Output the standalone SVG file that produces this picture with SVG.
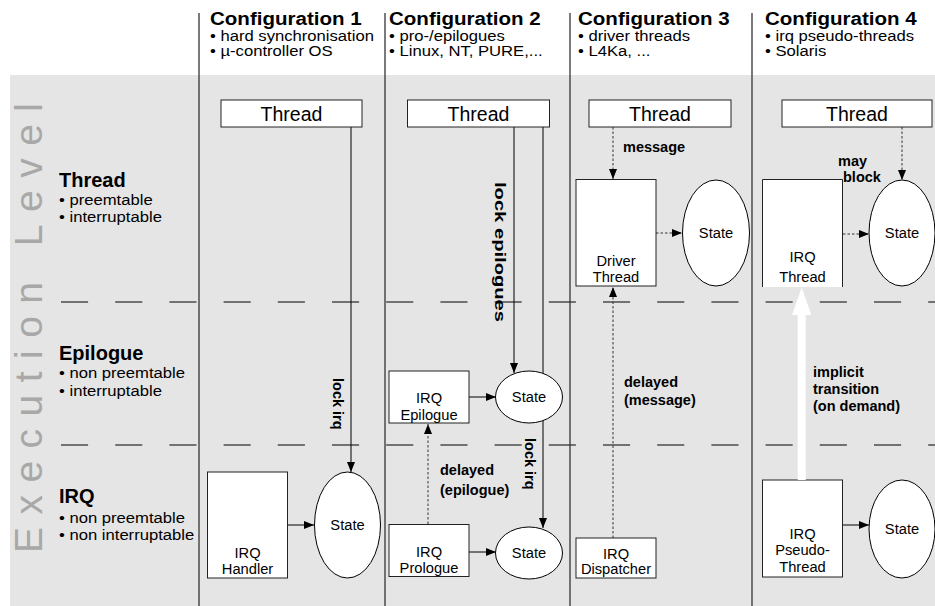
<svg xmlns="http://www.w3.org/2000/svg" width="935" height="606" viewBox="0 0 935 606">
<style>
text{font-family:"Liberation Sans",Arial,sans-serif;fill:#000}
.h{font-size:18.5px;font-weight:bold}
.hb{font-size:15px}
.lh{font-size:20px;font-weight:bold}
.bx{fill:#fff;stroke:#222;stroke-width:1}
.el{fill:#fff;stroke:#000;stroke-width:1}
.t{font-size:19.5px;text-anchor:middle}
.s{font-size:14.7px;text-anchor:middle}
.lb{font-size:14.5px;font-weight:bold}
.sol{stroke:#000;stroke-width:1;fill:none}
.dot{stroke:#333;stroke-width:1;fill:none;stroke-dasharray:2.5 2}
.sep{stroke:#333;stroke-width:1.3}
.dash{stroke:#000;stroke-width:1.2;stroke-dasharray:27.1 27.1}
</style>
<defs>
<marker id="ah" markerWidth="10" markerHeight="8" refX="10" refY="4" orient="auto" markerUnits="userSpaceOnUse"><path d="M0,0 L10,4 L0,8 z" fill="#000"/></marker>
</defs>
<rect x="0" y="0" width="935" height="606" fill="#fff"/>
<rect x="10" y="75" width="925" height="531" fill="#e5e5e5"/>
<g id="background-text">
<text transform="translate(42,553) rotate(-90)" font-size="39" textLength="450" lengthAdjust="spacing" style="fill:#a8a8a8">Execution Level</text>
</g>
<g id="grid">
<line class="dash" x1="61" y1="302" x2="935" y2="302"/>
<line class="dash" x1="61" y1="445" x2="935" y2="445"/>
<line class="sep" x1="199" y1="13" x2="199" y2="606"/>
<line class="sep" x1="385" y1="13" x2="385" y2="606"/>
<line class="sep" x1="570" y1="13" x2="570" y2="606"/>
<line class="sep" x1="752" y1="13" x2="752" y2="606"/>
</g>
<g id="header-1" transform="translate(210,0) scale(1.11,1)">
<text class="h" x="0" y="25">Configuration 1</text>
<text class="hb" x="0" y="41">• hard synchronisation</text>
<text class="hb" x="0" y="56.5">• µ-controller OS</text>
</g>
<g id="header-2" transform="translate(389,0) scale(1.11,1)">
<text class="h" x="0" y="25">Configuration 2</text>
<text class="hb" x="0" y="41">• pro-/epilogues</text>
<text class="hb" x="0" y="56.5">• Linux, NT, PURE,...</text>
</g>
<g id="header-3" transform="translate(578,0) scale(1.11,1)">
<text class="h" x="0" y="25">Configuration 3</text>
<text class="hb" x="0" y="41">• driver threads</text>
<text class="hb" x="0" y="56.5">• L4Ka, ...</text>
</g>
<g id="header-4" transform="translate(765,0) scale(1.11,1)">
<text class="h" x="0" y="25">Configuration 4</text>
<text class="hb" x="0" y="41">• irq pseudo-threads</text>
<text class="hb" x="0" y="56.5">• Solaris</text>
</g>
<g id="levels">
<text class="lh" x="59" y="187">Thread</text>
<text class="lh" x="59" y="360">Epilogue</text>
<text class="lh" x="59" y="503">IRQ</text>
<g transform="translate(59,0) scale(1.11,1)">
<text class="hb" x="0" y="205">• preemtable</text>
<text class="hb" x="0" y="222.5">• interruptable</text>
<text class="hb" x="0" y="378">• non preemtable</text>
<text class="hb" x="0" y="396">• interruptable</text>
<text class="hb" x="0" y="523">• non preemtable</text>
<text class="hb" x="0" y="540.5">• non interruptable</text>
</g>
</g>
<g id="connectors">
<line class="sol" x1="351" y1="127" x2="351" y2="472" marker-end="url(#ah)"/>
<line class="sol" x1="288" y1="525" x2="314" y2="525" marker-end="url(#ah)"/>
<line class="sol" x1="514" y1="127" x2="514" y2="373" marker-end="url(#ah)"/>
<line class="sol" x1="543" y1="127" x2="543" y2="528" marker-end="url(#ah)"/>
<line class="sol" x1="469" y1="397" x2="496" y2="397" marker-end="url(#ah)"/>
<line class="sol" x1="469" y1="552" x2="496" y2="552" marker-end="url(#ah)"/>
<line class="dot" x1="428" y1="524" x2="428" y2="424" marker-end="url(#ah)"/>
<line class="dot" x1="613" y1="127" x2="613" y2="179" marker-end="url(#ah)"/>
<line class="dot" x1="656" y1="233" x2="682" y2="233" marker-end="url(#ah)"/>
<line class="dot" x1="613" y1="538" x2="613" y2="287" marker-end="url(#ah)"/>
<line class="dot" x1="902" y1="127" x2="902" y2="180" marker-end="url(#ah)"/>
<line class="dot" x1="843" y1="234" x2="869" y2="234" marker-end="url(#ah)"/>
<line class="sol" x1="843" y1="525" x2="869" y2="525" marker-end="url(#ah)"/>
<text class="lb" transform="translate(333,378) rotate(90)">lock irq</text>
<text class="lb" transform="translate(494.5,182) rotate(90)" textLength="140" lengthAdjust="spacingAndGlyphs">lock epilogues</text>
<text class="lb" transform="translate(525,438) rotate(90)">lock irq</text>
<text class="lb" x="440" y="475">delayed</text>
<text class="lb" x="440" y="495">(epilogue)</text>
<text class="lb" x="623" y="152">message</text>
<text class="lb" x="624" y="387">delayed</text>
<text class="lb" x="624" y="405">(message)</text>
<text class="lb" x="838" y="166">may</text>
<text class="lb" x="843" y="182">block</text>
<text class="lb" x="813" y="377">implicit</text>
<text class="lb" x="813" y="394">transition</text>
<text class="lb" x="813" y="411">(on demand)</text>
</g>
<g id="c1-thread"><rect class="bx" x="221" y="100" width="141" height="27"/><text class="t" x="291.5" y="121">Thread</text></g>
<g id="c1-irq-handler"><rect class="bx" x="207.5" y="472" width="80" height="106"/><text class="s" x="247.5" y="558">IRQ</text><text class="s" x="247.5" y="574">Handler</text></g>
<g id="c1-state"><ellipse class="el" cx="347.5" cy="525" rx="33" ry="53"/><text class="s" x="347.5" y="530">State</text></g>
<g id="c2-thread"><rect class="bx" x="407.5" y="100" width="142" height="27"/><text class="t" x="478.5" y="121">Thread</text></g>
<g id="c2-irq-epilogue"><rect class="bx" x="389" y="371" width="80" height="52"/><text class="s" x="429" y="403">IRQ</text><text class="s" x="429" y="419.5">Epilogue</text></g>
<g id="c2-state-epi"><ellipse class="el" cx="529" cy="397" rx="33.5" ry="26"/><text class="s" x="529" y="402">State</text></g>
<g id="c2-irq-prologue"><rect class="bx" x="389" y="524.5" width="80" height="52"/><text class="s" x="429" y="557">IRQ</text><text class="s" x="429" y="573">Prologue</text></g>
<g id="c2-state-pro"><ellipse class="el" cx="529" cy="553" rx="33.5" ry="26"/><text class="s" x="529" y="558">State</text></g>
<g id="c3-thread"><rect class="bx" x="589" y="100" width="142" height="27"/><text class="t" x="660" y="121">Thread</text></g>
<g id="c3-driver-thread"><rect class="bx" x="576" y="179.5" width="80" height="106.5"/><text class="s" x="616" y="266">Driver</text><text class="s" x="616" y="282">Thread</text></g>
<g id="c3-state"><ellipse class="el" cx="716" cy="233" rx="33.5" ry="53"/><text class="s" x="716" y="238">State</text></g>
<g id="c3-irq-dispatcher"><rect class="bx" x="576" y="538" width="80" height="40"/><text class="s" x="616" y="559">IRQ</text><text class="s" x="616" y="574">Dispatcher</text></g>
<g id="c4-thread"><rect class="bx" x="782" y="100" width="150" height="27"/><text class="t" x="857" y="121">Thread</text></g>
<g id="c4-irq-thread"><path class="bx" d="M762.5,287 V179.5 H842.5 V287"/><text class="s" x="802.5" y="262">IRQ</text><text class="s" x="802.5" y="282">Thread</text></g>
<g id="c4-state-thread"><ellipse class="el" cx="902" cy="233" rx="33" ry="53"/><text class="s" x="902" y="238">State</text></g>
<g id="c4-irq-pseudo"><rect class="bx" x="762.5" y="480" width="80" height="97"/><text class="s" x="802.5" y="539">IRQ</text><text class="s" x="802.5" y="555">Pseudo-</text><text class="s" x="802.5" y="572">Thread</text></g>
<g id="c4-state-pseudo"><ellipse class="el" cx="902" cy="529" rx="33" ry="49"/><text class="s" x="902" y="534">State</text></g>
<g id="c4-transition"><path d="M797.7,480 V315 H792 L801.7,287.5 L811.4,315 H805.7 V480 Z" fill="#fff"/></g>
</svg>
